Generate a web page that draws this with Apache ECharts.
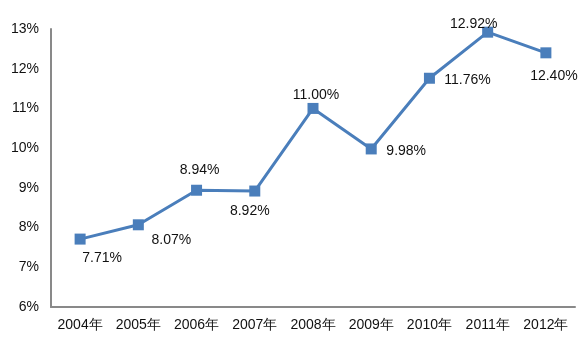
<!DOCTYPE html>
<html><head><meta charset="utf-8">
<script src="https://cdn.jsdelivr.net/npm/echarts@6/dist/echarts.min.js"></script>
<style>html,body{margin:0;padding:0;background:#fff}#c{width:585px;height:347px}</style>
</head><body><div id="c"></div>
<script>
var categories = ['2004年','2005年','2006年','2007年','2008年','2009年','2010年','2011年','2012年'];
var values = [7.71, 8.07, 8.94, 8.92, 11.00, 9.98, 11.76, 12.92, 12.40];
var labelOffsets = [[22,19],[33,15],[3,-20],[-5,20],[3,-13],[35,2],[38,2],[-14,-8],[8,23]];

var chart = echarts.init(document.getElementById('c'));
chart.setOption({
  animation: false,
  grid: {left: 51, right: 10, top: 29, bottom: 40, containLabel: false},
  xAxis: {
    type: 'category', data: categories, boundaryGap: true,
    axisLine: {lineStyle: {color: '#898989', width: 2}},
    axisTick: {show: false},
    axisLabel: {interval: 0, hideOverlap: false, color: '#111', fontFamily: 'Liberation Sans, Arial, sans-serif', fontSize: 14, margin: 11}
  },
  yAxis: {
    type: 'value', min: 6, max: 13, interval: 1,
    axisLine: {show: true, lineStyle: {color: '#898989', width: 2}},
    axisTick: {show: false},
    splitLine: {show: false},
    axisLabel: {color: '#111', fontFamily: 'Liberation Sans, Arial, sans-serif', fontSize: 14, margin: 12,
      formatter: function(v){ return v + '%'; }}
  },
  series: [{
    type: 'line', data: values.map(function(v, i){
      return {value: v, label: {offset: labelOffsets[i]}};
    }),
    symbol: 'rect', symbolSize: 11,
    lineStyle: {color: '#4a7ebb', width: 3},
    itemStyle: {color: '#4a7ebb'},
    label: {show: true, position: 'inside', color: '#111',
      fontFamily: 'Liberation Sans, Arial, sans-serif', fontSize: 14,
      formatter: function(p){ return p.value.toFixed(2) + '%'; }}
  }]
});
</script></body></html>
